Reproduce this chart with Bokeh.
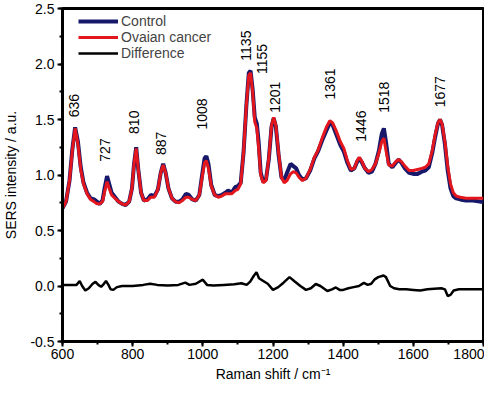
import numpy as np
from bokeh.plotting import figure
from bokeh.models import (ColumnDataSource, Range1d, SingleIntervalTicker, Legend, LegendItem,
                          CustomJSTickFormatter)
from bokeh.core.properties import value
from bokeh.embed import file_html
from bokeh.resources import INLINE

# ---- data ----
wavenumber = [600, 610, 620, 628, 636, 644, 652, 660, 670, 680, 690, 698, 706, 714, 720, 727, 733, 740,
              750, 760, 770, 780, 790, 798, 804, 810, 816, 824, 832, 842, 852, 862, 872, 880, 887, 894,
              902, 912, 922, 932, 942, 952, 960, 970, 980, 990, 998, 1005, 1010, 1016, 1024, 1034, 1044,
              1054, 1064, 1072, 1082, 1092, 1100, 1108, 1116, 1124, 1131, 1136, 1142, 1148, 1154, 1159,
              1165, 1172, 1180, 1188, 1196, 1202, 1208, 1216, 1224, 1232, 1240, 1250, 1258, 1266, 1274,
              1284, 1294, 1306, 1318, 1328, 1340, 1352, 1362, 1370, 1380, 1392, 1402, 1412, 1422, 1432,
              1440, 1446, 1454, 1462, 1472, 1482, 1492, 1502, 1510, 1516, 1522, 1530, 1540, 1550, 1558,
              1566, 1576, 1588, 1600, 1612, 1624, 1634, 1644, 1654, 1662, 1670, 1676, 1682, 1690, 1698,
              1706, 1714, 1722, 1734, 1750, 1770, 1790, 1800]

cancer = [0.70, 0.76, 0.95, 1.22, 1.42, 1.28, 1.05, 0.92, 0.83, 0.78, 0.76, 0.74, 0.74, 0.76, 0.85, 0.94, 0.88, 0.82,
          0.79, 0.76, 0.74, 0.73, 0.76, 0.88, 1.10, 1.24, 1.05, 0.84, 0.77, 0.77, 0.80, 0.80, 0.87, 1.02, 1.09, 1.02,
          0.88, 0.79, 0.76, 0.75, 0.77, 0.80, 0.80, 0.78, 0.77, 0.82, 0.98, 1.11, 1.13, 1.06, 0.90, 0.82, 0.80,
          0.81, 0.83, 0.83, 0.83, 0.86, 0.87, 0.92, 1.20, 1.62, 1.90, 1.92, 1.75, 1.48, 1.42, 1.25,
          1.00, 0.93, 0.95, 1.15, 1.45, 1.52, 1.45, 1.20, 0.98, 0.93, 0.95, 1.01, 1.03, 1.02, 0.98,
          0.95, 0.97, 1.05, 1.16, 1.22, 1.33, 1.43, 1.49, 1.47, 1.40, 1.30, 1.24, 1.13, 1.05, 1.06,
          1.13, 1.16, 1.12, 1.06, 1.03, 1.05, 1.10, 1.20, 1.30, 1.33, 1.22, 1.09, 1.08, 1.12, 1.14,
          1.12, 1.08, 1.04, 1.04, 1.05, 1.06, 1.07, 1.10, 1.22, 1.36, 1.47, 1.50, 1.46, 1.30, 1.08,
          0.92, 0.84, 0.81, 0.80, 0.79, 0.79, 0.79, 0.79]

control = [0.70, 0.76, 0.95, 1.23, 1.43, 1.30, 1.07, 0.93, 0.84, 0.79, 0.78, 0.76, 0.74, 0.77, 0.88, 0.99, 0.92, 0.84,
           0.80, 0.76, 0.74, 0.73, 0.76, 0.88, 1.10, 1.25, 1.05, 0.84, 0.77, 0.78, 0.82, 0.81, 0.87, 1.02, 1.10, 1.02,
           0.88, 0.79, 0.76, 0.76, 0.78, 0.83, 0.82, 0.78, 0.77, 0.82, 1.00, 1.15, 1.17, 1.10, 0.91, 0.82, 0.81,
           0.82, 0.84, 0.86, 0.84, 0.89, 0.90, 0.93, 1.20, 1.62, 1.92, 1.94, 1.77, 1.52, 1.46, 1.30,
           1.02, 0.94, 0.96, 1.14, 1.44, 1.51, 1.44, 1.18, 0.98, 0.95, 1.02, 1.10, 1.08, 1.06, 1.00,
           0.96, 0.97, 1.04, 1.15, 1.21, 1.31, 1.40, 1.47, 1.45, 1.37, 1.27, 1.21, 1.11, 1.04, 1.06,
           1.12, 1.15, 1.11, 1.06, 1.02, 1.03, 1.10, 1.22, 1.37, 1.42, 1.30, 1.10, 1.07, 1.11, 1.14,
           1.11, 1.06, 1.02, 1.01, 1.01, 1.03, 1.04, 1.07, 1.20, 1.34, 1.46, 1.50, 1.45, 1.28, 1.04,
           0.88, 0.81, 0.79, 0.78, 0.77, 0.77, 0.76, 0.76]

diff_x = [600, 640, 649, 656, 665, 675, 686, 694, 702, 710, 718, 724, 731, 737, 745, 755, 770, 800, 830,
          850, 870, 900, 930, 950, 962, 980, 1000, 1012, 1030, 1060, 1090, 1110, 1125, 1135, 1145, 1153,
          1160, 1170, 1185, 1200, 1215, 1230, 1247, 1262, 1278, 1294, 1308, 1322, 1335, 1355, 1368, 1379,
          1390, 1400, 1415, 1430, 1445, 1459, 1470, 1480, 1490, 1500, 1515, 1522, 1534, 1545, 1560, 1580,
          1600, 1620, 1640, 1660, 1680, 1690, 1698, 1706, 1715, 1730, 1760, 1800]
difference = [0.01, 0.01, 0.045, 0.0, -0.04, -0.02, 0.02, 0.037, 0.01, -0.007, 0.02, 0.045, 0.01, -0.03, -0.035,
              -0.01, 0.0, 0.0, 0.01, 0.02, 0.01, 0.005, 0.01, 0.03, 0.01, 0.02, 0.057, 0.01, 0.005, 0.01, 0.015,
              0.025, 0.01, 0.04, 0.09, 0.125, 0.07, 0.05, 0.02, -0.035, -0.01, 0.03, 0.08, 0.04, 0.0, -0.035,
              -0.02, 0.018, 0.0, -0.045, -0.03, -0.013, -0.035, -0.035, -0.02, -0.01, 0.0, 0.028, 0.01, 0.02,
              0.06, 0.08, 0.095, 0.08, 0.0, -0.02, -0.03, -0.03, -0.035, -0.04, -0.03, -0.025, -0.02, -0.03,
              -0.09, -0.08, -0.04, -0.03, -0.03, -0.03]

peak_labels = ["636", "727", "810", "887", "1008", "1135", "1155", "1201", "1361", "1446", "1518", "1677"]
label_x = [633, 722, 804, 882, 998, 1123, 1170, 1205, 1363, 1452, 1515, 1675]
label_y = [1.52, 1.12, 1.37, 1.18, 1.41, 2.03, 1.91, 1.56, 1.68, 1.30, 1.56, 1.61]

series_names = ["Control", "Ovaian cancer", "Difference"]

FONT = "Liberation Sans"
BLUE = "#17186a"
RED = "#e3161d"

p = figure(width=484, height=384, output_backend="svg", toolbar_location=None,
           x_range=Range1d(600, 1800), y_range=Range1d(-0.5, 2.5),
           min_border_left=53, min_border_right=1, min_border_top=8, min_border_bottom=0)
p.background_fill_color = "white"
p.border_fill_color = "white"
p.grid.visible = False
p.outline_line_color = "black"
p.outline_line_width = 3

src = ColumnDataSource(dict(x=wavenumber, control=control, cancer=cancer))
r_ctrl = p.line("x", "control", source=src, line_color=BLUE, line_width=4)
r_canc = p.line("x", "cancer", source=src, line_color=RED, line_width=3)
r_diff = p.line(diff_x, difference, line_color="black", line_width=2.5)

lab_src = ColumnDataSource(dict(x=label_x, y=label_y, t=peak_labels))
p.text("x", "y", text="t", source=lab_src, angle=np.pi / 2, text_align="left", text_baseline="middle",
       text_font=value(FONT), text_font_size="14px", text_color="black")

for ax in (p.xaxis[0], p.yaxis[0]):
    ax.axis_line_width = 3
    ax.major_tick_line_width = 2
    ax.minor_tick_line_width = 2
    ax.major_tick_in = 0
    ax.major_tick_out = 5
    ax.minor_tick_in = 0
    ax.minor_tick_out = 3
    ax.major_label_text_font = FONT
    ax.major_label_text_font_size = "14px"
    ax.major_label_text_color = "black"
    ax.axis_label_text_font = FONT
    ax.axis_label_text_font_size = "14px"
    ax.axis_label_text_font_style = "normal"
    ax.axis_label_text_color = "black"

p.xaxis.ticker = SingleIntervalTicker(interval=200, num_minor_ticks=2)
p.yaxis.ticker = SingleIntervalTicker(interval=0.5, num_minor_ticks=2)
p.yaxis.formatter = CustomJSTickFormatter(code="return tick.toFixed(1);")
p.xaxis.axis_label = "Raman shift / cm\u207b\u00b9"
p.yaxis.axis_label = "SERS intensity / a.u."
p.xaxis.major_label_standoff = 2
p.yaxis.major_label_standoff = 3
p.xaxis.axis_label_standoff = 4
p.yaxis.axis_label_standoff = 8

legend = Legend(items=[LegendItem(label=series_names[0], renderers=[r_ctrl]),
                       LegendItem(label=series_names[1], renderers=[r_canc]),
                       LegendItem(label=series_names[2], renderers=[r_diff])],
                location=(16, 280), margin=0, padding=0, spacing=0,
                label_text_font=FONT, label_text_font_size="14px",
                glyph_width=40, glyph_height=16, label_height=16, label_standoff=3,
                border_line_alpha=0, background_fill_alpha=0)
p.add_layout(legend)

open("out.html", "w").write(file_html(p, INLINE))
